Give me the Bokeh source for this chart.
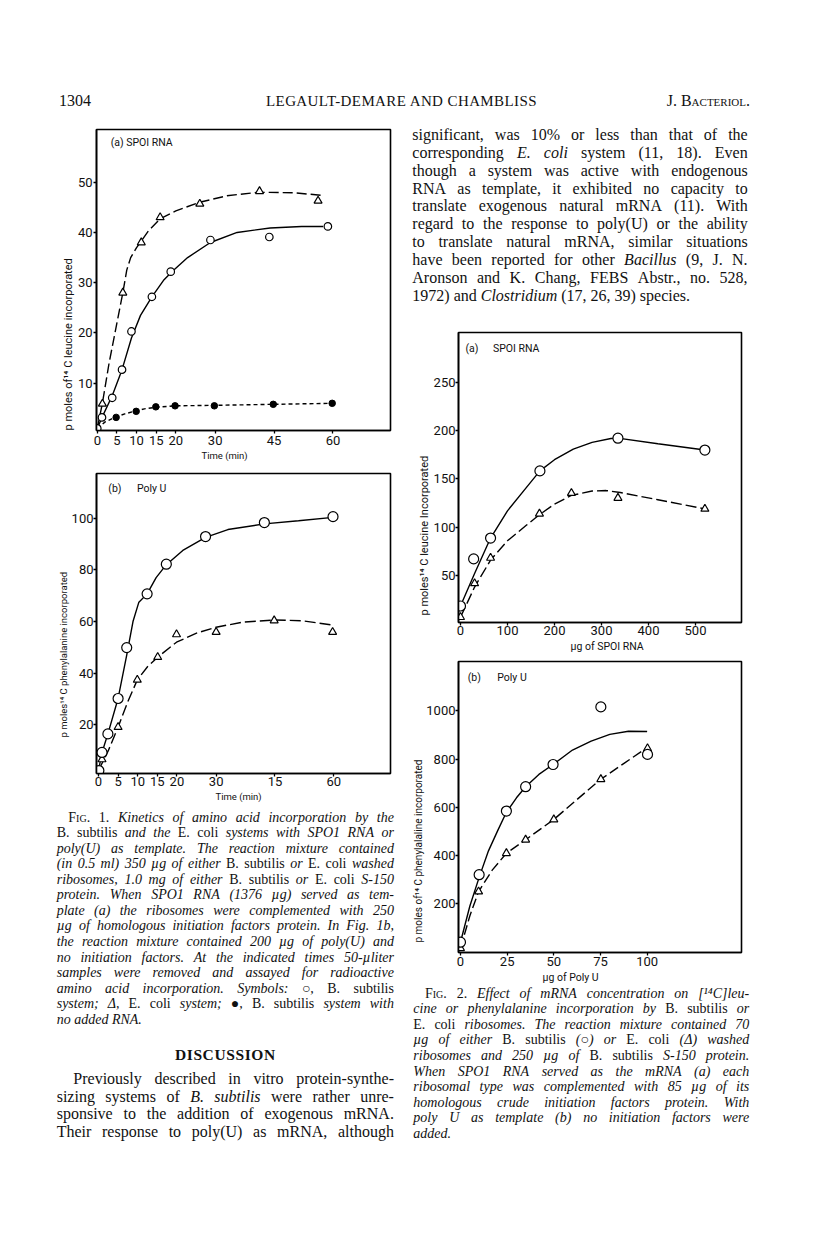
import html
import math
from bokeh.plotting import figure
from bokeh.models import Range1d, FixedTicker, Label, Div, Title
from bokeh.layouts import column, row
from bokeh.embed import file_html
from bokeh.resources import INLINE

# ---------------- Fig. 1 data (time in min) ----------------
fig1_xticks = [0, 5, 10, 15, 20, 30, 45, 60]
fig1a_yticks = [10, 20, 30, 40, 50]
fig1b_yticks = [20, 40, 60, 80, 100]
fig1b_tick_override = {45: "15"}

# Fig. 1a (SPO1 RNA) - points
t1a_bs = [0, 1.2, 3.8, 6.3, 8.7, 13.9, 18.7, 28.8, 43.8, 58.7]
v1a_bs = [1.0, 3.2, 7.1, 12.7, 20.3, 27.2, 32.2, 38.5, 39.1, 41.2]
t1a_ec = [1.3, 6.5, 11.2, 16.0, 26.1, 41.3, 56.2]
v1a_ec = [5.9, 28.0, 38.0, 43.0, 45.7, 48.2, 46.3]
t1a_nr = [4.8, 9.9, 14.9, 19.8, 29.8, 44.8, 59.8]
v1a_nr = [3.2, 4.4, 5.3, 5.5, 5.5, 5.8, 6.0]
# Fig. 1a - drawn curves
c1a_bs_t = [0, 1.2, 3.8, 6.3, 8.7, 11.0, 13.9, 17.0, 19.0, 23.0, 28.8, 35.6, 44.0, 52.0, 57.5]
c1a_bs_v = [1.0, 3.2, 7.5, 12.7, 19.0, 23.5, 27.2, 30.6, 32.2, 35.0, 38.0, 40.0, 40.9, 41.2, 41.2]
c1a_ec_t = [0, 1.3, 3.0, 5.0, 6.5, 7.5, 8.5, 10.0, 11.2, 13.0, 16.0, 20.0, 26.0, 33.0, 41.0, 50.0, 57.0]
c1a_ec_v = [1.0, 6.0, 14.0, 22.0, 28.0, 32.5, 35.0, 37.0, 38.3, 40.3, 42.7, 44.3, 46.0, 47.3, 48.0, 47.9, 47.4]
c1a_nr_t = [0, 2.0, 4.8, 7.0, 9.9, 12.0, 14.9, 19.8, 29.8, 44.8, 59.8]
c1a_nr_v = [1.0, 2.3, 3.3, 3.9, 4.5, 4.9, 5.2, 5.5, 5.6, 5.8, 6.0]

# Fig. 1b (poly U) - points
t1b_bs = [0.1, 0.9, 2.4, 5.0, 7.2, 12.4, 17.3, 27.3, 42.3, 59.8]
v1b_bs = [2.3, 9.3, 16.5, 30.2, 49.9, 70.7, 82.2, 92.9, 98.3, 100.6]
t1b_ec = [0.9, 5.0, 9.9, 15.1, 19.9, 30.0, 44.8, 59.7]
v1b_ec = [6.6, 19.1, 37.4, 46.2, 55.0, 55.9, 60.4, 55.9]
# Fig. 1b - drawn curves
c1b_bs_t = [0, 0.9, 2.4, 5.0, 7.2, 8.8, 10.3, 12.4, 14.7, 17.3, 21.5, 27.3, 33.0, 42.3, 51.0, 59.8]
c1b_bs_v = [2.3, 9.3, 16.5, 30.2, 47.0, 60.0, 67.5, 70.7, 77.0, 82.0, 87.5, 92.6, 95.6, 97.8, 99.0, 100.3]
c1b_ec_t = [0, 2.5, 5.0, 7.5, 9.9, 12.5, 15.1, 19.9, 25.0, 30.0, 37.0, 44.8, 52.0, 59.7]
c1b_ec_v = [2.3, 10.0, 19.1, 29.0, 37.4, 42.5, 46.2, 52.0, 55.5, 57.8, 59.8, 60.6, 60.3, 58.6]

# ---------------- Fig. 2 data ----------------
fig2a_xticks = [0, 100, 200, 300, 400, 500]
fig2a_yticks = [50, 100, 150, 200, 250]
fig2b_xticks = [0, 25, 50, 75, 100]
fig2b_yticks = [200, 400, 600, 800, 1000]

# Fig. 2a (SPO1 RNA, ug) - points
x2a_bs = [0, 28, 64, 169, 335, 520]
v2a_bs = [18.4, 67.2, 88.8, 158.4, 192.3, 180.0]
x2a_ec = [0, 30, 64, 168, 236, 335, 520]
v2a_ec = [6.8, 41.8, 68.2, 114.0, 135.4, 130.3, 119.0]
# Fig. 2a - drawn curves
c2a_bs_x = [0, 30, 64, 100, 140, 169, 200, 240, 280, 320, 335, 420, 520]
c2a_bs_v = [18.4, 52, 88.8, 117, 141, 158.4, 170, 181, 188, 192, 192.3, 186.5, 180]
c2a_ec_x = [0, 30, 64, 100, 140, 168, 200, 236, 280, 310, 340, 420, 520]
c2a_ec_v = [6.8, 38, 66, 86, 102, 113, 124, 133, 137.5, 138, 136, 128.5, 119]

# Fig. 2b (poly U, ug) - points
x2b_bs = [0, 10, 24.6, 34.9, 49.6, 75.2, 100.2]
v2b_bs = [41, 321, 585, 686, 778, 1017, 820]
x2b_ec = [0, 9.7, 24.6, 34.9, 50.0, 75.2, 100.2]
v2b_ec = [16, 251, 410, 466, 550, 717, 845]
# Fig. 2b - drawn curves
c2b_bs_x = [0, 5, 10, 15, 20, 24.6, 30, 34.9, 42, 49.6, 60, 70, 80, 90, 100]
c2b_bs_v = [41, 190, 310, 420, 505, 580, 640, 686, 737, 778, 838, 875, 903, 916, 915]
c2b_ec_x = [0, 5, 9.7, 17, 24.6, 34.9, 50, 62, 75.2, 88, 100.2]
c2b_ec_v = [16, 150, 251, 340, 410, 466, 550, 630, 717, 785, 849]

# ---------------- page text ----------------
header_left = "1304"
header_mid = "LEGAULT-DEMARE AND CHAMBLISS"
header_right = "J. Bacteriol."

right_par = [
    "significant, was 10% or less than that of the",
    "corresponding {E. coli} system (11, 18). Even",
    "though a system was active with endogenous",
    "RNA as template, it exhibited no capacity to",
    "translate exogenous natural mRNA (11). With",
    "regard to the response to poly(U) or the ability",
    "to translate natural mRNA, similar situations",
    "have been reported for other {Bacillus} (9, J. N.",
    "Aronson and K. Chang, FEBS Abstr., no. 528,",
    "1972) and {Clostridium} (17, 26, 39) species.",
]

fig1_caption = [
    "[Fig. 1.] Kinetics of amino acid incorporation by the",
    "{B. subtilis} and the {E. coli} systems with SPO1 RNA or",
    "poly(U) as template. The reaction mixture contained",
    "(in 0.5 ml) 350 \u00b5g of either {B. subtilis} or {E. coli} washed",
    "ribosomes, 1.0 mg of either {B. subtilis} or {E. coli} S-150",
    "protein. When SPO1 RNA (1376 \u00b5g) served as tem-",
    "plate (a) the ribosomes were complemented with 250",
    "\u00b5g of homologous initiation factors protein. In Fig. 1b,",
    "the reaction mixture contained 200 \u00b5g of poly(U) and",
    "no initiation factors. At the indicated times 50-\u00b5liter",
    "samples were removed and assayed for radioactive",
    "amino acid incorporation. Symbols: \u25cb, {B. subtilis}",
    "system; \u0394, {E. coli} system; \u25cf, {B. subtilis} system with",
    "no added RNA.",
]

discussion_title = "DISCUSSION"
discussion_par = [
    "Previously described in vitro protein-synthe-",
    "sizing systems of {B. subtilis} were rather unre-",
    "sponsive to the addition of exogenous mRNA.",
    "Their response to poly(U) as mRNA, although",
]

fig2_caption = [
    "[Fig. 2.] Effect of mRNA concentration on [\u00b9\u2074C]leu-",
    "cine or phenylalanine incorporation by {B. subtilis} or",
    "{E. coli} ribosomes. The reaction mixture contained 70",
    "\u00b5g of either {B. subtilis} (\u25cb) or {E. coli} (\u0394) washed",
    "ribosomes and 250 \u00b5g of {B. subtilis} S-150 protein.",
    "When SPO1 RNA served as the mRNA (a) each",
    "ribosomal type was complemented with 85 \u00b5g of its",
    "homologous crude initiation factors protein. With",
    "poly U as template (b) no initiation factors were",
    "added.",
]

# --------------- helpers ---------------
LABEL_FONT = "Roboto"


def word_spans(line, alt_css, sc_css):
    words = []
    state = None
    for w in line.split(" "):
        s = '<span style="%s">' % state if state else ""
        i = 0
        while i < len(w):
            ch = w[i]
            if ch == "{":
                state = alt_css
                s += '<span style="%s">' % state
            elif ch == "[" and w[i + 1:i + 2] == "F":
                state = sc_css
                s += '<span style="%s">' % state
            elif ch == "}" or (ch == "]" and state == sc_css):
                state = None
                s += "</span>"
            else:
                s += html.escape(ch)
            i += 1
        if state:
            s += "</span>"
        words.append(s)
    return words


def block(lines, left, top0, width, lh, base_css, alt_css, indent=0.0, last_left=True):
    sc_css = "font-style:normal;font-variant:small-caps;"
    out = []
    n = len(lines)
    for i, ln in enumerate(lines):
        words = word_spans(ln, alt_css, sc_css)
        l = left + (indent if i == 0 else 0.0)
        w = width - (indent if i == 0 else 0.0)
        top = top0 + i * lh
        if last_left and i == n - 1:
            inner = " ".join(words)
            disp = ""
        else:
            inner = "".join("<span>%s</span>" % wd for wd in words)
            disp = "display:flex;justify-content:space-between;"
        out.append(
            '<div style="position:absolute;left:%.1fpx;top:%.1fpx;width:%.1fpx;height:%.1fpx;'
            'line-height:%.1fpx;white-space:nowrap;%s%s">%s</div>'
            % (l, top, w, lh, lh, disp, base_css, inner)
        )
    return "".join(out)


def wrap_div(inner, width, height):
    txt = ('<div style="position:relative;width:%dpx;height:%dpx;overflow:visible;color:#111;">%s</div>'
           % (width, height, inner))
    return Div(text=txt, width=width, height=height, margin=0, styles={"overflow": "visible"})


def make_fig(w, h, xr, yr, borders, xticks, yticks, xstand, ystand):
    p = figure(width=w, height=h, x_range=Range1d(*xr), y_range=Range1d(*yr),
               output_backend="svg", toolbar_location=None,
               min_border_left=borders[0], min_border_right=borders[1],
               min_border_top=borders[2], min_border_bottom=borders[3])
    p.xgrid.visible = False
    p.ygrid.visible = False
    p.outline_line_color = "black"
    p.outline_line_width = 1.6
    p.outline_line_alpha = 1.0
    p.background_fill_color = "white"
    p.border_fill_color = "white"
    for ax in p.axis:
        ax.axis_line_color = "black"
        ax.axis_line_width = 1.6
        ax.major_tick_line_color = "black"
        ax.major_tick_line_width = 1.3
        ax.major_tick_in = 0
        ax.major_tick_out = 3
        ax.minor_tick_line_color = None
        ax.major_label_text_font = LABEL_FONT
        ax.major_label_text_font_size = "13px"
        ax.major_label_text_color = "#111"
    p.xaxis.ticker = FixedTicker(ticks=xticks)
    p.yaxis.ticker = FixedTicker(ticks=yticks)
    p.xaxis.major_label_standoff = xstand
    p.yaxis.major_label_standoff = ystand
    return p


def add_label(p, x, y, text, size="10.5px"):
    p.add_layout(Label(x=x, y=y, text=text, text_align="left",
                       text_baseline="middle", text_font=LABEL_FONT,
                       text_font_size=size, text_color="#111"))


def add_axis_title(p, text, side, offset, size):
    p.add_layout(Title(text=text, align="left", offset=offset, standoff=0,
                       text_font=LABEL_FONT, text_font_size=size,
                       text_font_style="normal", text_color="#111"), side)


def open_pts(p, x, y, marker, size):
    p.scatter(x, y, marker=marker, size=size, fill_color="white",
              line_color="black", line_width=1.2)


LW = 1.4

# --------------- Fig. 1a ---------------
p1a = make_fig(394, 358, (-0.2, 74.64), (0.59, 60.49), (88, 10, 17, 40),
               fig1_xticks, fig1a_yticks, 2, 1)
p1a.line(c1a_ec_t, c1a_ec_v, line_color="black", line_width=LW, line_dash="10 4")
p1a.line(c1a_bs_t, c1a_bs_v, line_color="black", line_width=LW)
p1a.line(c1a_nr_t, c1a_nr_v, line_color="black", line_width=LW, line_dash="4 3")
open_pts(p1a, t1a_ec, v1a_ec, "triangle", 8)
open_pts(p1a, t1a_bs, v1a_bs, "circle", 7.5)
p1a.scatter(t1a_nr, v1a_nr, marker="circle", size=6.5, fill_color="black", line_color="black")
add_label(p1a, 3.4, 58.0, "(a) SPOI RNA")
add_axis_title(p1a, "p moles of\u00b9\u2074 C leucine incorporated", "left", 0, "11px")
add_axis_title(p1a, "Time (min)", "below", 105, "9.5px")

# --------------- Fig. 1b ---------------
p1b = make_fig(394, 340, (-0.505, 74.46), (1.16, 117.3), (85, 12, 3, 37),
               fig1_xticks, fig1b_yticks, 0, 0)
p1b.xaxis.major_label_overrides = fig1b_tick_override
p1b.line(c1b_ec_t, c1b_ec_v, line_color="black", line_width=LW, line_dash="11 4")
p1b.line(c1b_bs_t, c1b_bs_v, line_color="black", line_width=LW)
open_pts(p1b, t1b_ec, v1b_ec, "triangle", 8)
open_pts(p1b, t1b_bs, v1b_bs, "circle", 10)
add_label(p1b, 2.5, 111.4, "(b)")
add_label(p1b, 9.8, 111.4, "Poly U")
add_axis_title(p1b, "p moles\u00b9\u2074 C phenylalanine incorporated", "left", 36, "9.5px")
add_axis_title(p1b, "Time (min)", "below", 119, "9.5px")

# --------------- Fig. 2a ---------------
p2a = make_fig(406, 326, (-4.23, 597.9), (1.29, 301.8), (56, 65, 6, 28),
               fig2a_xticks, fig2a_yticks, 0, 0)
p2a.line(c2a_ec_x, c2a_ec_v, line_color="black", line_width=LW, line_dash="11 4")
p2a.line(c2a_bs_x, c2a_bs_v, line_color="black", line_width=LW)
open_pts(p2a, x2a_ec, v2a_ec, "triangle", 8)
open_pts(p2a, x2a_bs, v2a_bs, "circle", 10)
add_label(p2a, 10.6, 285, "(a)")
add_label(p2a, 69, 285, "SPOI RNA")
add_axis_title(p2a, "p moles\u00b9\u2074 C leucine Incorporated", "left", 7, "11px")
add_axis_title(p2a, "\u00b5g of  SPOI RNA", "below", 112, "10.5px")

# --------------- Fig. 2b ---------------
p2b = make_fig(406, 334, (-1.06, 150.55), (-1.66, 1205.3), (52, 67, 9, 34),
               fig2b_xticks, fig2b_yticks, 1, 0)
p2b.line(c2b_ec_x, c2b_ec_v, line_color="black", line_width=LW, line_dash="10 4")
p2b.line(c2b_bs_x, c2b_bs_v, line_color="black", line_width=LW)
open_pts(p2b, x2b_ec, v2b_ec, "triangle", 8)
open_pts(p2b, x2b_bs, v2b_bs, "circle", 10)
add_label(p2b, 3.9, 1139, "(b)")
add_label(p2b, 19.7, 1139, "Poly U")
add_axis_title(p2b, "p moles of\u00b9\u2074 C phenylalaline incorporated", "left", 10, "10px")
add_axis_title(p2b, "\u00b5g of Poly U", "below", 84, "10.5px")

# --------------- text blocks ---------------
SERIF = "font-family:'Liberation Serif',serif;"
body_css = SERIF + "font-size:16px;font-style:normal;"
cap_css = SERIF + "font-size:14px;font-style:italic;"

hdr_inner = (
    '<div style="position:absolute;left:51px;top:83px;line-height:20px;%sfont-size:16px;">%s</div>'
    % (SERIF, html.escape(header_left))
    + '<div style="position:absolute;left:258px;top:83px;line-height:20px;%sfont-size:15px;letter-spacing:0.4px;">%s</div>'
    % (SERIF, html.escape(header_mid))
    + '<div style="position:absolute;right:58px;top:83px;line-height:20px;%sfont-size:16px;font-variant:small-caps;">%s</div>'
    % (SERIF, html.escape(header_right))
)
header_div = wrap_div(hdr_inner, 800, 104)

right_top_div = wrap_div(
    block(right_par, 10.3, 13.8, 335.4, 17.9, body_css, "font-style:italic;"), 406, 214)

left_inner = (
    block(fig1_caption, 48.7, -0.5, 337.3, 15.55, cap_css, "font-style:normal;", indent=11.6)
    + '<div style="position:absolute;left:48.7px;top:236px;width:337.3px;line-height:18px;'
      'text-align:center;%sfont-size:15.5px;font-weight:bold;letter-spacing:0.6px;">%s</div>'
    % (SERIF, discussion_title)
    + block(discussion_par, 48.7, 260.2, 337.3, 17.6, body_css, "font-style:italic;",
            indent=16.6, last_left=False)
)
left_text_div = wrap_div(left_inner, 394, 350)

right_cap_div = wrap_div(
    block(fig2_caption, 11.3, -0.5, 336.0, 15.6, cap_css, "font-style:normal;", indent=11.7), 406, 174)

left_col = column(p1a, p1b, left_text_div, spacing=0)
right_col = column(right_top_div, p2a, p2b, right_cap_div, spacing=0)
page = column(header_div, row(left_col, right_col, spacing=0), spacing=0, margin=(8, 0, 0, 8))

open("out.html", "w").write(file_html(page, INLINE))
